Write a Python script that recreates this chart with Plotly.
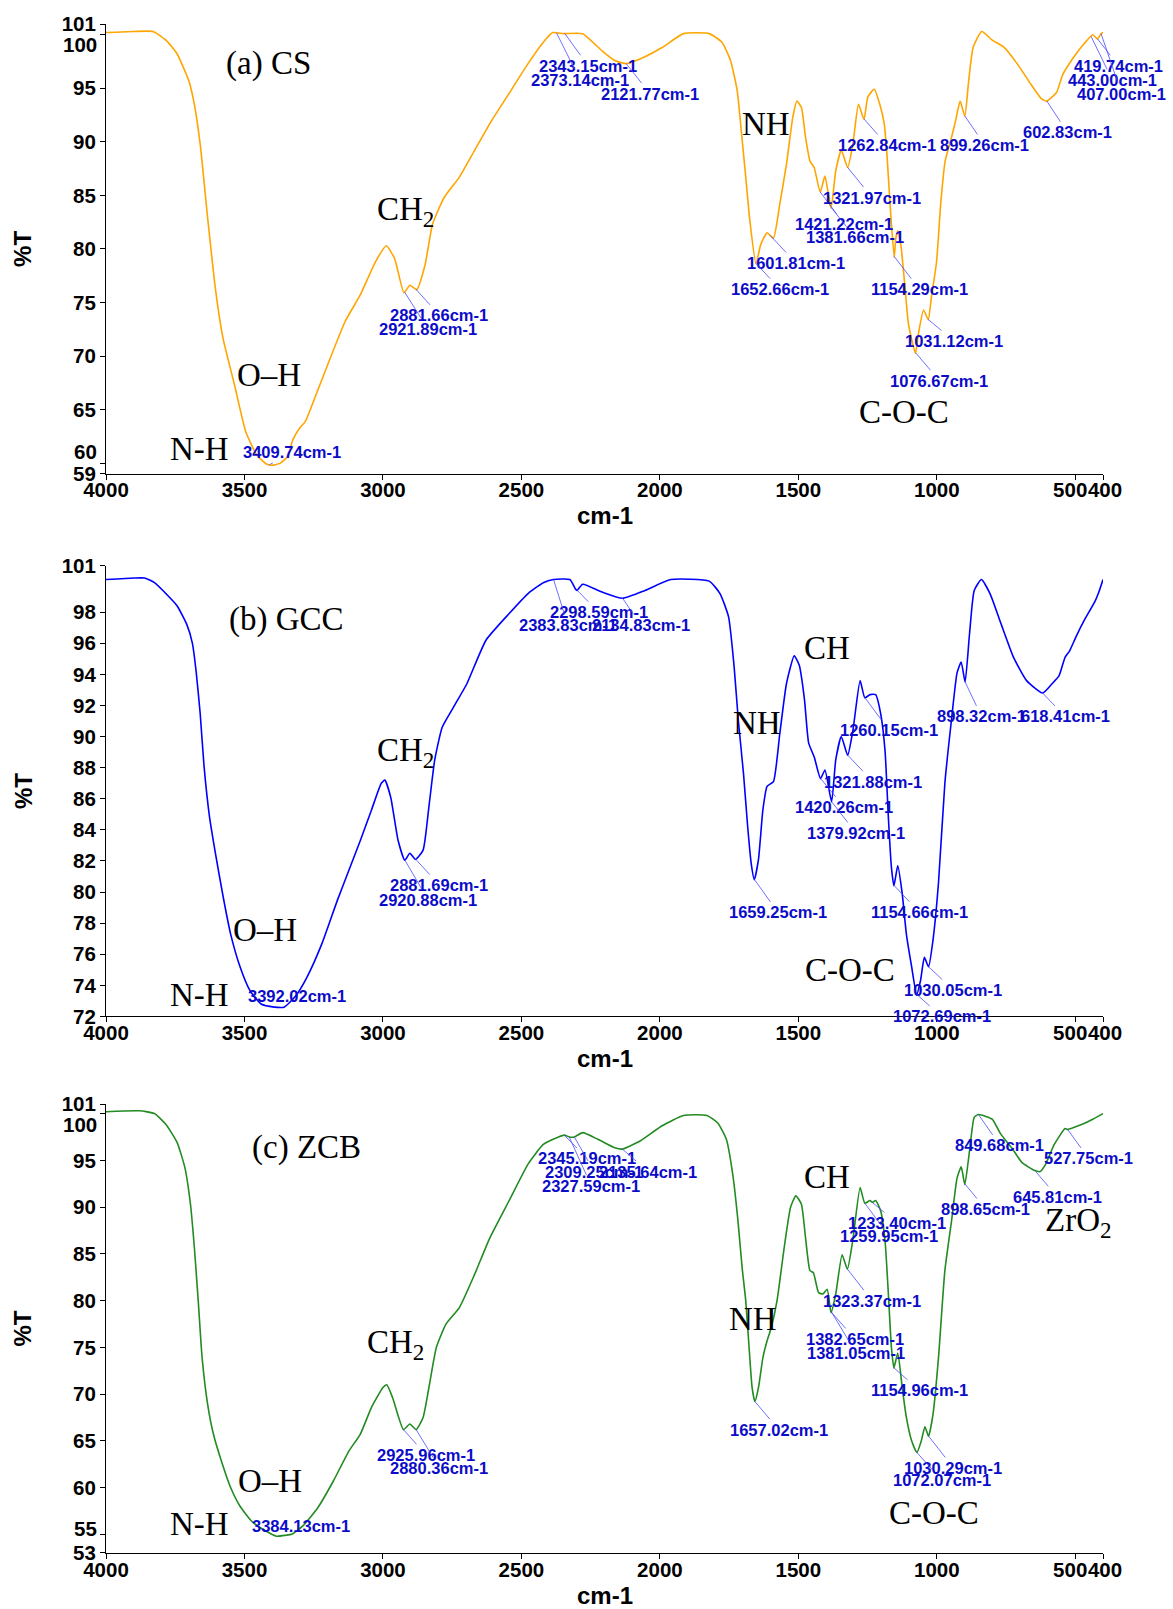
import numpy as np
import plotly.graph_objects as go

# ---------------- data ----------------
cs_wn = [4000, 3900, 3830, 3780, 3743, 3701, 3681, 3660, 3633, 3605, 3577, 3536, 3495, 3454, 3419, 3400, 3370, 3345,
         3325, 3300, 3280, 3234, 3137, 3082, 3027, 2988, 2958, 2924, 2903, 2878, 2848, 2821, 2779, 2724, 2669, 2614,
         2545, 2476, 2421, 2387, 2348, 2279, 2209, 2163, 2122, 2070, 1992, 1915, 1822, 1776, 1745, 1721, 1706, 1690,
         1675, 1653, 1636, 1613, 1590, 1567, 1543, 1520, 1505, 1489, 1474, 1458, 1443, 1421, 1404, 1382, 1365, 1345,
         1322, 1303, 1283, 1263, 1249, 1226, 1206, 1190, 1180, 1169, 1154, 1148, 1141, 1130, 1117, 1102, 1077, 1067,
         1048, 1031, 1020, 1001, 986, 970, 947, 932, 916, 899, 885, 869, 838, 800, 756, 710, 661, 622, 603, 568, 545,
         506, 467, 437, 420, 407, 400]
cs_t = [100.2, 100.3, 100.3, 99.4, 98.2, 95.7, 93.5, 89.8, 82.9, 76.3, 71.6, 67.3, 62.9, 60.7, 59.9, 59.8, 60.0, 60.6,
        62.2, 63.3, 63.9, 66.9, 73.2, 75.7, 78.8, 80.3, 79.1, 75.9, 76.6, 76.2, 78.5, 82.3, 84.8, 86.7, 89.2, 91.7,
        94.5, 97.3, 99.3, 100.2, 100.1, 100.1, 98.5, 97.6, 97.3, 97.75, 98.8, 100.1, 100.1, 99.3, 97.6, 94.8, 91.0, 86.7,
        82.6, 78.6, 80.4, 81.5, 81.0, 84.2, 87.9, 92.3, 93.8, 93.2, 90.4, 88.2, 87.6, 85.3, 86.8, 83.8, 87.3, 89.2,
        87.6, 89.8, 93.5, 92.1, 94.2, 94.9, 93.5, 91.7, 88.8, 84.2, 79.2, 81.0, 81.7, 80.4, 77.0, 72.9, 70.25, 72.0,
        74.3, 73.4, 75.4, 78.8, 84.2, 88.2, 90.4, 92.0, 93.8, 92.4, 95.7, 98.8, 100.3, 99.5, 98.8, 97.3, 95.4, 94.0, 93.8,
        94.6, 96.3, 97.9, 99.2, 100.0, 99.6, 100.1, 100.2]

gcc_wn = [4000, 3900, 3860, 3825, 3784, 3743, 3708, 3688, 3674, 3660, 3646, 3626, 3605, 3577, 3550, 3516, 3481, 3440,
          3392, 3357, 3316, 3275, 3220, 3164, 3123, 3082, 3041, 3006, 2993, 2972, 2945, 2921, 2903, 2882, 2855, 2834,
          2813, 2786, 2745, 2697, 2628, 2545, 2476, 2421, 2384, 2325, 2305, 2299, 2279, 2209, 2135, 2054, 1961, 1822,
          1783, 1752, 1732, 1717, 1698, 1683, 1670, 1659, 1644, 1628, 1613, 1590, 1567, 1543, 1515, 1497, 1478, 1463,
          1443, 1420, 1404, 1380, 1365, 1345, 1322, 1303, 1277, 1260, 1241, 1221, 1203, 1187, 1175, 1164, 1155, 1141,
          1125, 1110, 1091, 1073, 1059, 1045, 1030, 1014, 994, 971, 947, 927, 912, 898, 882, 865, 839, 808, 769, 723,
          676, 618, 584, 559, 537, 521, 498, 467, 429, 413, 400]
gcc_t = [100.1, 100.2, 100.2, 99.9, 99.2, 98.4, 97.2, 96.0, 94.1, 91.5, 88.1, 84.8, 82.5, 79.7, 77.3, 75.2, 73.7, 72.8,
         72.6, 72.6, 73.3, 74.5, 76.7, 79.5, 81.4, 83.3, 85.3, 87.0, 87.2, 86.1, 83.3, 82.05, 82.5, 82.1, 82.7, 85.5,
         88.5, 90.6, 91.9, 93.4, 96.2, 97.9, 99.2, 99.9, 100.1, 100.1, 99.5, 99.4, 99.8, 99.3, 98.9, 99.4, 100.1, 100.0,
         99.2, 97.7, 94.5, 91.1, 87.6, 84.2, 81.8, 80.8, 82.1, 85.3, 86.8, 87.1, 90.2, 93.4, 95.2, 94.6, 92.4, 89.6,
         88.7, 87.3, 87.85, 85.8, 88.5, 90.0, 88.8, 90.4, 93.6, 92.5, 92.7, 92.7, 91.5, 89.1, 84.8, 81.6, 80.4, 81.7,
         79.9, 77.3, 75.2, 73.4, 74.3, 75.8, 75.2, 76.9, 80.6, 87.0, 91.1, 94.1, 94.8, 93.5, 96.6, 99.4, 100.1, 99.2, 97.3, 95.1,
         93.6, 92.8, 93.4, 93.9, 95.1, 95.5, 96.4, 97.5, 98.7, 99.4, 100.1]

zcb_wn = [4000, 3880, 3825, 3784, 3743, 3715, 3695, 3681, 3667, 3653, 3633, 3612, 3584, 3550, 3516, 3474, 3426, 3384,
          3350, 3330, 3289, 3234, 3179, 3123, 3082, 3041, 3000, 2986, 2965, 2926, 2903, 2880, 2855, 2834, 2807, 2772,
          2724, 2669, 2614, 2545, 2476, 2421, 2366, 2345, 2327, 2309, 2279, 2224, 2163, 2136, 2070, 1992, 1915, 1830,
          1791, 1760, 1737, 1718, 1703, 1690, 1678, 1667, 1657, 1644, 1628, 1613, 1598, 1577, 1551, 1528, 1509, 1489,
          1474, 1458, 1446, 1427, 1412, 1396, 1382, 1365, 1342, 1323, 1303, 1277, 1260, 1241, 1233, 1221, 1203, 1187,
          1175, 1164, 1155, 1141, 1125, 1110, 1091, 1072, 1056, 1043, 1030, 1014, 994, 971, 947, 927, 912, 899, 882,
          865, 850, 823, 800, 769, 730, 692, 646, 627, 607, 576, 537, 528, 506, 475, 437, 400]
zcb_t = [100.2, 100.3, 100.0, 98.85, 96.9, 94.2, 90.3, 85.7, 80.0, 73.9, 68.9, 65.7, 62.9, 60.0, 58.0, 56.4, 55.4, 54.8,
         54.9, 55.0, 55.9, 57.9, 60.7, 63.9, 65.7, 68.6, 70.7, 71.0, 69.6, 66.2, 66.8, 66.2, 67.5, 70.7, 75.0, 77.5,
         79.25, 82.8, 86.7, 90.65, 94.6, 96.7, 97.5, 97.7, 97.5, 97.5, 97.96, 97.25, 96.35, 96.2, 97.1, 98.7, 99.8, 99.8,
         99.0, 97.25, 93.5, 88.5, 83.5, 80.0, 75.0, 70.7, 69.2, 70.7, 73.9, 75.7, 77.1, 80.0, 85.7, 90.0, 91.2, 90.3,
         86.7, 83.2, 83.0, 80.85, 80.7, 81.2, 78.7, 80.7, 84.9, 83.35, 86.55, 92.1, 90.4, 90.7, 90.5, 90.7, 89.6, 86.4,
         80.7, 75.0, 72.8, 74.4, 70.7, 67.5, 65.0, 63.75, 65.0, 66.5, 65.5, 67.8, 73.9, 83.2, 88.5, 93.1, 94.3, 92.4, 96.0,
         99.6, 99.9, 99.7, 99.4, 97.8, 96.35, 94.75, 93.9, 93.8, 94.6, 96.7, 98.4, 98.3, 98.5, 98.85, 99.4, 100.0]

# marked peak wavenumbers (cm-1)
cs_peaks = [3409.74, 2881.66, 2921.89, 2343.15, 2373.14, 2121.77, 1601.81, 1652.66, 1421.22, 1381.66,
            1321.97, 1262.84, 899.26, 602.83, 1154.29, 1031.12, 1076.67, 419.74, 443.00, 407.00]
gcc_peaks = [3392.02, 2881.69, 2920.88, 2298.59, 2383.83, 2134.83, 1659.25, 1420.26, 1379.92, 1321.88,
             1260.15, 898.32, 618.41, 1154.66, 1030.05, 1072.69]
zcb_peaks = [3384.13, 2925.96, 2880.36, 2345.19, 2309.25, 2135.64, 2327.59, 1657.02, 1323.37, 1382.65,
             1381.05, 1233.40, 1259.95, 1154.96, 1030.29, 1072.07, 849.68, 898.65, 645.81, 527.75]

x_tickvals = [4000, 3500, 3000, 2500, 2000, 1500, 1000, 500, 400]
x_ticktext = ["4000", "3500", "3000", "2500", "2000", "1500", "1000", "500\u2002", "\u2009400"]
ya_ticks = [101, 100, 95, 90, 85, 80, 75, 70, 65, 60, 59]
yb_ticks = [101, 98, 96, 94, 92, 90, 88, 86, 84, 82, 80, 78, 76, 74, 72]
yc_ticks = [101, 100, 95, 90, 85, 80, 75, 70, 65, 60, 55, 53]

# ---------------- layout positions (label placement) ----------------
cs_label_pos = [(3327, 61.0), (2796, 73.8), (2837, 72.5), (2259, 97.1), (2289, 95.8), (2036, 94.5),
                (1509, 78.7), (1567, 76.25), (1334, 82.3), (1296, 81.1), (1234, 84.8), (1180, 89.7),
                (827, 89.7), (529, 90.9), (1063, 76.25), (937, 71.4), (991, 67.7), (344, 97.1),
                (367, 95.8), (333, 94.5)]
gcc_label_pos = [(3309, 73.3), (2796, 80.45), (2837, 79.5), (2221, 98.0), (2333, 97.2), (2070, 97.2),
                 (1574, 78.7), (1334, 85.45), (1292, 83.8), (1231, 87.1), (1172, 90.4), (839, 91.3),
                 (537, 91.3), (1063, 78.7), (940, 73.7), (983, 72.0)]
zcb_label_pos = [(3295, 55.9), (2845, 63.5), (2796, 62.1), (2263, 95.2), (2237, 93.8), (2042, 93.8),
                 (2248, 92.3), (1571, 66.2), (1234, 80.0), (1296, 75.9), (1292, 74.4), (1144, 88.3),
                 (1172, 86.9), (1063, 70.4), (940, 62.1), (983, 60.8), (772, 96.6), (824, 89.8),
                 (565, 91.1), (452, 95.2)]

cs_groups = [("(a) CS", 3412, 97.3), ("CH<sub>2</sub>", 2917, 83.5), ("O–H", 3412, 68.2),
             ("N-H", 3663, 61.3), ("NH", 1618, 91.7), ("C-O-C", 1118, 64.8)]
gcc_groups = [("(b) GCC", 3350, 97.5), ("CH<sub>2</sub>", 2917, 89.0), ("O–H", 3426, 77.55),
              ("N-H", 3663, 73.4), ("NH", 1649, 90.85), ("CH", 1396, 95.7), ("C-O-C", 1314, 75.0)]
zcb_groups = [("(c) ZCB", 3275, 96.35), ("CH<sub>2</sub>", 2955, 75.3), ("O–H", 3408, 60.7),
              ("N-H", 3663, 56.1), ("NH", 1663, 78.0), ("CH", 1396, 93.2), ("C-O-C", 1012, 57.3),
              ("ZrO<sub>2</sub>", 488, 88.3)]

W, H = 1173, 1609
ML, MR, MT, MB = 106, 70, 20, 56
domains = [[0.7058, 1.0], [0.3509, 0.6458], [0.0, 0.2935]]
yranges = [[59, 101], [72, 101], [53, 101]]

SANS = "Liberation Sans, Arial, sans-serif"
SERIF = "Liberation Serif, Times New Roman, serif"
BLUE_TXT = "#0c0cc8"
BLUE_LINE = "#4b4bff"
TICK_SIZE = 20.5

fig = go.Figure()

panels = [
    (cs_wn, cs_t, "#FFA500", cs_peaks, cs_label_pos, cs_groups, ya_ticks),
    (gcc_wn, gcc_t, "#0000FF", gcc_peaks, gcc_label_pos, gcc_groups, yb_ticks),
    (zcb_wn, zcb_t, "#228B22", zcb_peaks, zcb_label_pos, zcb_groups, yc_ticks),
]

# tick labels that the original drew displaced from their ticks
shifted = {0: {100: -10, 60: 12}, 2: {100: -11, 55: 6}}

annotations = []
for i, (wn, t, col, peaks, lpos, groups, yt) in enumerate(panels):
    n = "" if i == 0 else str(i + 1)
    xr, yr = "x" + n, "y" + n
    fig.add_trace(go.Scatter(x=wn, y=t, mode="lines",
                             line=dict(color=col, width=1.6, shape="spline", smoothing=0.5),
                             xaxis=xr, yaxis=yr, showlegend=False, hoverinfo="skip"))
    ytext = [("" if v in shifted.get(i, {}) else str(v)) for v in yt]
    axis_common = dict(showline=True, linecolor="black", linewidth=1, ticks="outside", ticklen=5,
                       tickcolor="black", showgrid=False, zeroline=False, tickangle=0,
                       tickfont=dict(family=SANS, size=TICK_SIZE, color="black", weight="bold"))
    fig.update_layout(**{
        ("xaxis" + n): dict(range=[4000, 400], tickvals=x_tickvals, ticktext=x_ticktext,
                            anchor=yr, domain=[0, 1], ticklabelstandoff=-7, **axis_common),
        ("yaxis" + n): dict(range=yranges[i], tickvals=yt, ticktext=ytext, anchor=xr,
                            domain=domains[i], **axis_common),
    })
    for v, sh in shifted.get(i, {}).items():
        annotations.append(dict(xref=xr + " domain", yref=yr, x=0, y=v, xanchor="right", yanchor="middle",
                                xshift=-7, yshift=sh, text=str(v), showarrow=False,
                                font=dict(family=SANS, size=TICK_SIZE, color="black", weight="bold")))
    wn_asc = np.array(wn[::-1], dtype=float)
    t_asc = np.array(t[::-1], dtype=float)
    for p, (lx, ly) in zip(peaks, lpos):
        py = float(np.interp(p, wn_asc, t_asc))
        annotations.append(dict(xref=xr, yref=yr, axref=xr, ayref=yr, x=p, y=py, ax=lx, ay=ly,
                                text=f"{p:.2f}cm-1", showarrow=True, arrowhead=0, arrowwidth=0.8,
                                arrowcolor=BLUE_LINE, standoff=0,
                                font=dict(family=SANS, size=16.5, color=BLUE_TXT, weight="bold")))
    for txt, gx, gy in groups:
        annotations.append(dict(xref=xr, yref=yr, x=gx, y=gy, text=txt, showarrow=False,
                                xanchor="center", yanchor="middle",
                                font=dict(family=SERIF, size=33, color="black")))
    annotations.append(dict(xref="paper", yref=yr + " domain", x=(23 - ML) / (W - ML - MR), y=0.5,
                            text="%T", textangle=-90, showarrow=False, xanchor="center", yanchor="middle",
                            font=dict(family=SANS, size=24, color="black", weight="bold")))
    annotations.append(dict(xref=xr + " domain", yref=yr + " domain", x=0.5, y=0, yshift=-42,
                            text="cm-1", showarrow=False, xanchor="center", yanchor="middle",
                            font=dict(family=SANS, size=24, color="black", weight="bold")))

fig.update_layout(width=W, height=H, margin=dict(l=ML, r=MR, t=MT, b=MB),
                  plot_bgcolor="white", paper_bgcolor="white", annotations=annotations,
                  showlegend=False)

fig.write_html("out.html")
